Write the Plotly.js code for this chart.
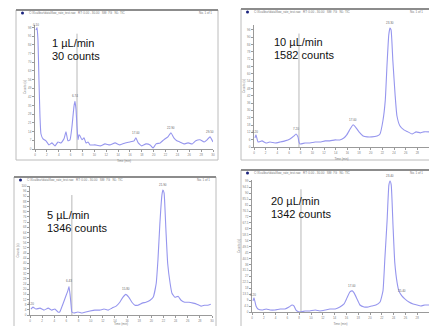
<!DOCTYPE html>
<html>
<head>
<meta charset="utf-8">
<script src="https://cdn.plot.ly/plotly-3.0.1.min.js"></script>
<style>html,body{margin:0;padding:0;background:#fff}#chart{width:429px;height:326px}</style>
</head>
<body>
<div id="chart"></div>
<script>
// ---- data (time in min, relative counts) ----
const TL_time = [0.17,0.34,0.5,0.67,0.84,1.0,1.35,1.85,2.36,2.86,3.37,3.88,4.38,4.89,5.22,5.56,5.9,6.23,6.57,6.74,6.91,7.08,7.25,7.41,7.58,7.92,8.26,8.6,8.93,9.27,10.1,11.0,11.8,12.6,13.5,14.3,15.2,16.0,16.7,17.0,17.4,18.0,18.7,19.4,19.9,20.4,21.1,21.7,22.4,22.9,23.4,23.9,24.4,25.1,25.8,26.5,27.1,27.8,28.5,29.0,29.5,30.0];
const TL_counts = [96,98,88,55,26.2,12.3,8.2,6.6,3.3,4.9,2.5,5.7,4.9,8.2,13.9,6.6,7.4,18,34.4,38.5,32,18,7.4,11.5,10.7,7.4,9,4.9,5.7,3.3,3.3,2.5,4.1,3.3,4.9,3.3,4.9,5.7,6.6,9,4.9,2.5,4.1,3.3,0.8,4.1,4.9,7.4,9.8,13.1,9,6.6,5.7,4.1,4.9,4.1,6.6,7.4,5.7,7.4,9.8,5.7];

const TR_time = [0.17,0.34,0.69,1.37,2.06,2.74,3.6,4.46,5.3,6.17,6.86,7.2,7.54,7.71,7.89,8.74,9.6,10.46,11.3,12.2,13.0,13.9,14.7,15.4,15.9,16.5,17.0,17.5,18.0,18.7,19.4,20.2,21.1,21.6,22.1,22.5,22.8,23.1,23.3,23.5,23.8,24.2,24.5,25.0,25.7,26.4,27.1,27.8,28.5,29.1,30.0];
const TR_counts = [7.4,9.9,4.1,5,3.3,4.1,3.3,4.1,5,6.6,9.1,10.7,8.3,4.1,2.5,3.3,3.3,4.1,4.1,5,5,5.8,5.8,7.4,9.9,14.9,18.2,15.7,12.4,9.1,8.3,8.3,9.1,10.7,21.5,38,67,91.7,97.5,95.9,71,42,25.6,17.4,14,12.4,10.7,12.4,11.6,12.4,12.4];

const BL_time = [0.16,0.49,0.99,1.65,2.3,3.0,3.6,4.1,4.6,4.9,5.3,5.6,5.9,6.26,6.43,6.6,6.76,6.9,7.25,7.9,8.6,9.2,9.9,10.7,11.5,12.2,12.9,13.5,14.2,14.8,15.3,15.8,16.3,16.8,17.3,17.8,18.5,19.1,19.8,20.3,20.8,21.1,21.4,21.75,21.9,22.1,22.4,22.7,23.1,23.4,23.9,24.4,24.9,25.5,26.2,26.9,27.5,28.2,28.8,29.3,29.8];
const BL_counts = [4.6,6.1,4.6,5.3,3.8,5.3,3.8,4.6,2.3,2.3,6.9,10.7,14.5,19.1,22.1,16,8.4,2.3,1.5,2.3,1.5,2.3,3.1,3.8,3.8,4.6,3.8,5.3,6.9,9.9,13.7,16,13.7,9.9,7.6,7.6,9.2,9.9,11.4,13.7,24.4,43.5,70.2,93.1,96.9,94.6,66.4,39.7,24.4,16.8,13.7,14.5,11.4,9.9,9.9,9.2,8.4,6.9,7.6,7.6,8.4];

const BR_time = [0.17,0.34,0.68,1.0,1.7,2.4,3.05,3.9,4.75,5.6,6.27,6.8,7.1,7.46,8.1,9.0,9.8,10.7,11.5,12.4,13.2,14.1,14.9,15.6,16.1,16.6,17.0,17.3,17.8,18.3,19.0,19.7,20.3,21.0,21.7,22.2,22.5,22.9,23.2,23.4,23.6,23.9,24.2,24.6,24.9,25.4,25.9,26.6,27.3,28.0,28.6,29.3,30.0];
const BR_counts = [8.4,10.7,4.6,2.3,1.5,2.3,1.5,1.5,2.3,2.3,3.8,5.3,4.6,1.5,0,0.8,0.8,1.5,0.8,1.5,2.3,2.3,3.8,6.1,10.7,15.3,16,14.5,9.9,5.3,3.8,3.8,4.6,5.3,7.6,16,38.9,69.4,96.1,99.2,96.1,65.6,37.4,22.1,16,12.2,9.9,7.6,6.1,5.3,4.6,5.3,5.3];

const flowLabels = ["1 µL/min", "10 µL/min", "5 µL/min", "20 µL/min"];
const countLabels = ["30 counts", "1582 counts", "1346 counts", "1342 counts"];
const markerTimes = [7.08, 7.71, 6.9, 8.3];
const TL_peaks = [0.1, 6.74, 17.0, 22.9, 29.5];
const TR_peaks = [0.2, 7.2, 17.0, 23.3];
const BL_peaks = [0.2, 6.43, 15.8, 21.9];
const BR_peaks = [0.2, 17.0, 23.4, 25.4];
const fileTitle = "C:\\Xcalibur\\data\\flow_rate_test.raw   RT: 0.00 - 30.00   SM: 7G   NL: TIC";
const rightTitle = "No. 1 of 1";
const xTitle = "Time (min)";
const yTitle = "Counts (s)";

// ---- layout geometry (pixels) ----
const W = 429, H = 326;
const px = v => v / W, py = v => 1 - v / H;
const panels = [
  {t: TL_time, c: TL_counts, pk: TL_peaks, plot: [35, 213, 25, 149], win: [16, 218, 10, 160], text: [50, 43], dt: 7},
  {t: TR_time, c: TR_counts, pk: TR_peaks, plot: [254, 429, 25, 147], win: [241, 440, 9, 160], text: [272, 42], dt: 6},
  {t: BL_time, c: BL_counts, pk: BL_peaks, plot: [30, 212, 186, 315], win: [14, 216, 177, 340], text: [45, 215], dt: 4},
  {t: BR_time, c: BR_counts, pk: BR_peaks, plot: [252, 429, 180, 312], win: [241, 440, 170, 340], text: [269, 201], dt: 4.5}
];

function interp(ts, cs, x) {
  for (let i = 1; i < ts.length; i++) {
    if (x <= ts[i]) {
      const f = (x - ts[i-1]) / (ts[i] - ts[i-1]);
      return cs[i-1] + Math.max(0, Math.min(1, f)) * (cs[i] - cs[i-1]);
    }
  }
  return cs[cs.length - 1];
}

const traceColor = "rgb(150,150,238)";
const data = [];
const layout = {
  width: W, height: H,
  margin: {l: 0, r: 0, t: 0, b: 0},
  paper_bgcolor: "#fff", plot_bgcolor: "#fff",
  showlegend: false,
  font: {family: "Liberation Sans, Arial, sans-serif"},
  shapes: [], annotations: []
};

panels.forEach((p, i) => {
  const n = i === 0 ? "" : String(i + 1);
  const xa = "x" + n, ya = "y" + n;
  data.push({
    type: "scatter", mode: "lines", x: p.t, y: p.c,
    xaxis: xa, yaxis: ya,
    line: {color: traceColor, width: 1.1, shape: "spline", smoothing: 0.4},
    hoverinfo: "skip"
  });
  const axCommon = {
    showgrid: false, zeroline: false, showline: true, linecolor: "#9a9a9a", linewidth: 1,
    ticks: "outside", ticklen: 2, tickcolor: "#9a9a9a", tickwidth: 1,
    tickfont: {size: 3, color: "#808080"}, fixedrange: true
  };
  layout["xaxis" + n] = Object.assign({}, axCommon, {
    domain: [px(p.plot[0]), px(p.plot[1])], anchor: ya, range: [0, 30], dtick: 2,
    title: {text: xTitle, font: {size: 3, color: "#808080"}, standoff: 4}
  });
  layout["yaxis" + n] = Object.assign({}, axCommon, {
    domain: [py(p.plot[3]), py(p.plot[2])], anchor: xa, range: [0, 100], dtick: p.dt,
    title: {text: yTitle, font: {size: 3, color: "#808080"}, standoff: 2}
  });
  // window frame
  layout.shapes.push({type: "rect", xref: "paper", yref: "paper", layer: "below",
    x0: px(p.win[0]), x1: px(p.win[1]), y0: py(p.win[3]), y1: py(p.win[2]),
    line: {color: "#bcbcbc", width: 1}, fillcolor: "rgba(0,0,0,0)"});
  // title bar
  layout.shapes.push({type: "line", xref: "paper", yref: "paper", layer: "below",
    x0: px(p.win[0]), x1: px(p.win[1]), y0: py(p.win[2]), y1: py(p.win[2]),
    line: {color: "#8c8c8c", width: 2}});
  layout.shapes.push({type: "circle", xref: "paper", yref: "paper",
    x0: px(p.win[0] + 5), x1: px(p.win[0] + 8), y0: py(p.win[2] + 4.5), y1: py(p.win[2] + 1.5),
    line: {width: 0}, fillcolor: "#1a237e"});
  layout.annotations.push({xref: "paper", yref: "paper", x: px(p.win[0] + 11), y: py(p.win[2] + 3),
    xanchor: "left", yanchor: "middle", showarrow: false, text: fileTitle,
    font: {size: 3, color: "#777"}});
  layout.annotations.push({xref: "paper", yref: "paper", x: px(Math.min(p.win[1], 429) - 4), y: py(p.win[2] + 3),
    xanchor: "right", yanchor: "middle", showarrow: false, text: rightTitle,
    font: {size: 3, color: "#777"}});
  // retention marker line
  layout.shapes.push({type: "line", xref: xa, yref: ya + " domain", layer: "below",
    x0: markerTimes[i], x1: markerTimes[i], y0: 0, y1: 0.93,
    line: {color: "#b8b8b8", width: 1}});
  // peak labels
  p.pk.forEach(t => {
    layout.annotations.push({xref: xa, yref: ya, x: t, y: interp(p.t, p.c, t),
      yanchor: "bottom", yshift: 1, showarrow: false, text: t.toFixed(2),
      font: {size: 3, color: "#666"}});
  });
  // flow rate / count labels
  layout.annotations.push({xref: "paper", yref: "paper", x: px(p.text[0]), y: py(p.text[1]),
    xanchor: "left", yanchor: "middle", showarrow: false, text: flowLabels[i],
    font: {size: 11, color: "#111"}});
  layout.annotations.push({xref: "paper", yref: "paper", x: px(p.text[0]), y: py(p.text[1] + 13),
    xanchor: "left", yanchor: "middle", showarrow: false, text: countLabels[i],
    font: {size: 11, color: "#111"}});
});

Plotly.newPlot("chart", data, layout, {staticPlot: true, displayModeBar: false});
</script>
</body>
</html>
